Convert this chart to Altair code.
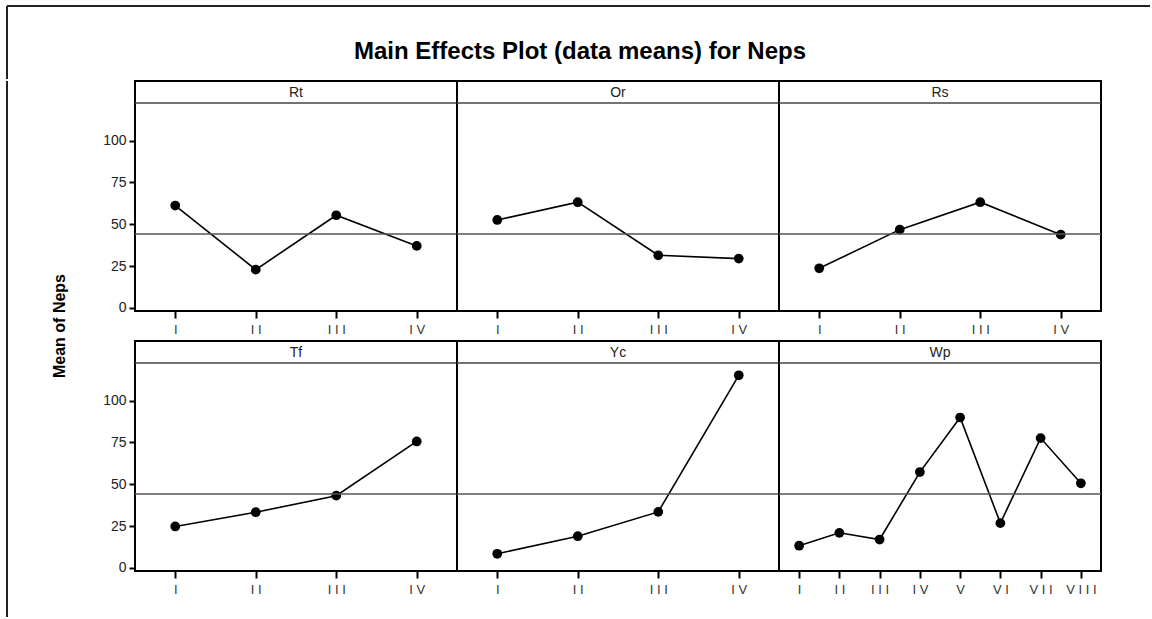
import altair as alt
import pandas as pd

factors = ["Rt", "Or", "Rs", "Tf", "Yc", "Wp"]
levels4 = ["I", "II", "III", "IV"]
levels8 = ["I", "II", "III", "IV", "V", "VI", "VII", "VIII"]

rt_means = [61.2, 22.9, 55.4, 37.1]
or_means = [52.6, 63.2, 31.5, 29.5]
rs_means = [23.7, 46.8, 63.2, 43.8]
tf_means = [24.8, 33.3, 43.2, 75.6]
yc_means = [8.5, 19.0, 33.5, 115.1]
wp_means = [13.3, 21.0, 17.0, 57.3, 89.9, 26.8, 77.6, 50.6]
grand_mean = 44.2

y_ticks = [0, 25, 50, 75, 100]
title_text = "Main Effects Plot (data means) for Neps"
y_title = "Mean of Neps"

series = {
    "Rt": (levels4, rt_means),
    "Or": (levels4, or_means),
    "Rs": (levels4, rs_means),
    "Tf": (levels4, tf_means),
    "Yc": (levels4, yc_means),
    "Wp": (levels8, wp_means),
}

W = 322
H = 230
HEAD = 22
ROW_GAP = 3
FONT = "Liberation Sans"
FRAME = "#222"


def make_panel(factor, show_y):
    lv, vals = series[factor]
    d = pd.DataFrame({"level": lv, "value": vals})
    d["factor"] = factor
    d["mean"] = grand_mean
    d["first"] = [i == 0 for i in range(len(lv))]

    x_enc = alt.X(
        "level:N",
        sort=lv,
        scale=alt.Scale(type="point", padding=0.5),
        axis=alt.Axis(
            title=None, labelAngle=0, labelExpr="join(split(datum.label, ''), ' ')",
            tickSize=7, tickWidth=2, tickColor="black", domain=False,
            labelPadding=5, labelFontSize=13, labelColor="#333", labelFont=FONT,
        ),
    )
    y_scale = alt.Scale(domain=[-1.8, 135.6], nice=False, zero=False)
    if show_y:
        y_axis = alt.Axis(
            values=y_ticks, title=None, grid=False, domain=False,
            tickSize=6, tickWidth=2, tickColor="black",
            labelFontSize=14, labelColor="#222", labelFont=FONT, labelPadding=3,
        )
        y_enc = alt.Y("value:Q", scale=y_scale, axis=y_axis)
        y_mean = alt.Y("mean:Q", scale=y_scale, axis=y_axis)
    else:
        y_enc = alt.Y("value:Q", scale=y_scale, axis=None)
        y_mean = alt.Y("mean:Q", scale=y_scale, axis=None)

    base = alt.Chart(d)
    first = base.transform_filter("datum.first")
    mean_rule = first.mark_rule(color="#555", strokeWidth=1.5).encode(y=y_mean)
    head_rule = first.mark_rule(color="#444", strokeWidth=1.5).encode(
        x=alt.value(0), x2=alt.value(W), y=alt.value(HEAD))
    head_text = first.mark_text(fontSize=14, font=FONT, color="#222", baseline="middle").encode(
        text="factor:N", x=alt.value(W / 2), y=alt.value(HEAD / 2 + 1))
    line = base.mark_line(color="black", strokeWidth=1.6).encode(x=x_enc, y=y_enc)
    pts = base.mark_circle(size=95, color="black", opacity=1).encode(x=x_enc, y=y_enc)
    return alt.layer(line, pts, mean_rule, head_rule, head_text).properties(width=W, height=H)


row1 = alt.hconcat(*[make_panel(f, i == 0) for i, f in enumerate(factors[:3])],
                   spacing=0, bounds="flush")
row2 = alt.hconcat(*[make_panel(f, i == 0) for i, f in enumerate(factors[3:])],
                   spacing=0, bounds="flush")
panels = alt.vconcat(row1, row2, spacing=ROW_GAP)

# Top strip: window frame (top + left edge) and the chart title
TOP_W = 1143
TOP_H = 70
title_df = pd.DataFrame({"t": [title_text]})
top_base = alt.Chart(title_df)
top_line = top_base.mark_rule(color=FRAME, strokeWidth=2).encode(
    x=alt.value(0), x2=alt.value(TOP_W), y=alt.value(0))
top_left = top_base.mark_rule(color=FRAME, strokeWidth=2).encode(
    x=alt.value(0), y=alt.value(0), y2=alt.value(TOP_H + 3))
top_title = top_base.mark_text(
    font=FONT, fontSize=24, fontWeight="bold", color="black",
    align="center", baseline="alphabetic",
).encode(text="t:N", x=alt.value(573), y=alt.value(53))
top = alt.layer(top_line, top_left, top_title).properties(
    width=TOP_W, height=TOP_H, view=alt.ViewConfig(strokeOpacity=0))

# Left strip: frame left edge and y-axis title
LEFT_W = 60
label_df = pd.DataFrame({"t": [y_title]})
left_base = alt.Chart(label_df)
left_line = left_base.mark_rule(color=FRAME, strokeWidth=2).encode(
    x=alt.value(0), y=alt.value(0), y2=alt.value(536))
left_text = left_base.mark_text(
    angle=270, font=FONT, fontSize=16, fontWeight="bold", color="black", baseline="middle"
).encode(text="t:N", x=alt.value(53), y=alt.value(H + 15))
left = alt.layer(left_line, left_text).properties(
    width=LEFT_W, height=2 * H + 30, view=alt.ViewConfig(strokeOpacity=0))

chart = (
    alt.vconcat(top, alt.hconcat(left, panels, spacing=33), spacing=0)
    .properties(
        padding={"left": 6, "top": 5, "right": 0, "bottom": 0},
        background="white",
    )
    .configure_view(stroke="black", strokeWidth=2)
)

chart.save("out.html", embed_options={"renderer": "svg", "actions": False})
